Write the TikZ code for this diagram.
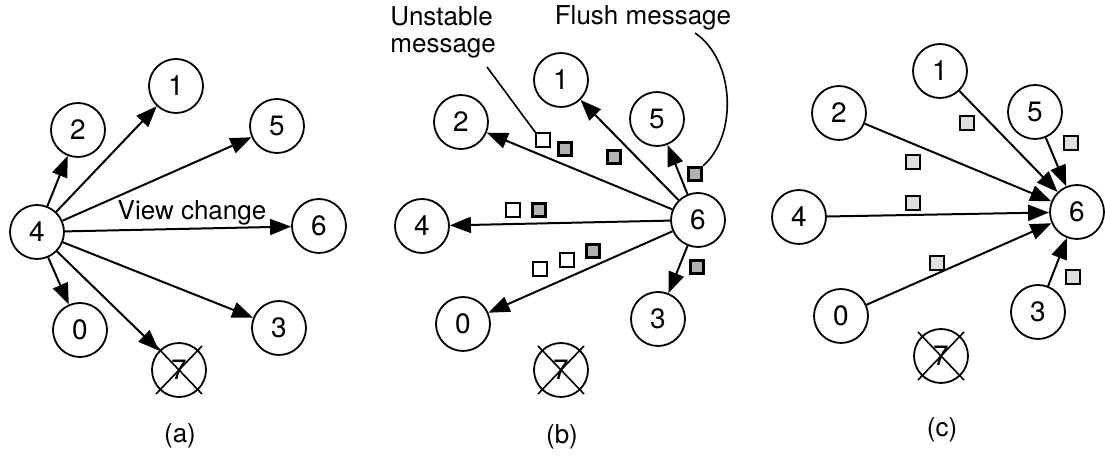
\documentclass[tikz,border=0pt]{standalone}
\usepackage{fontspec}
\setmainfont{TeX Gyre Heros}
\usetikzlibrary{arrows.meta,calc}
\tikzset{
  proc/.style={draw, circle, line width=0.9pt, minimum size=27pt, inner sep=0pt, font=\fontsize{14}{16}\selectfont},
  fl/.style={-{Triangle[length=10.5pt,width=8pt]}, line width=1pt},
  msjb/.style={draw, line width=0.9pt, fill=white, minimum size=6.8pt, inner sep=0pt},
  msjg/.style={msjb, line width=1.4pt, fill=gray!60},
  msjc/.style={msjb, line width=1.1pt, fill=gray!25},
  et/.style={font=\fontsize{13}{13.5}\selectfont, align=left, inner sep=0pt},
  cruz/.style={line width=0.8pt},
}

\begin{document}
\begin{tikzpicture}[x=0.5pt, y=-0.5pt]
  \useasboundingbox (0,0) rectangle (1105,459);
  % (a) 4 sends the view change
  \node[proc] (a4) at (37,232) {4};
  \node[proc] (a2) at (78,130) {2};
  \node[proc] (a1) at (176,86) {1};
  \node[proc] (a5) at (277,126) {5};
  \node[proc] (a6) at (319,226) {6};
  \node[proc] (a3) at (279,328) {3};
  \node[proc] (a0) at (80,330) {0};
  \node[proc] (a7) at (179,370) {7};
  \draw[cruz] ($(a7)+(-23,-24)$) -- ($(a7)+(23,24)$);
  \draw[cruz] ($(a7)+(23,-24)$) -- ($(a7)+(-23,24)$);
  \foreach \d in {2,1,5,6,3,0,7}
    \draw[fl] (a4) -- (a\d);
  \node[et, anchor=base] (vc) at (192,220) {View change};
  \node[et] (la) at (180,436) {(a)};

  % (b) 6 forwards unstable messages, then flush
  \node[proc] (b6) at (698,220) {6};
  \node[proc] (b2) at (461,122) {2};
  \node[proc] (b1) at (561,80) {1};
  \node[proc] (b5) at (657,119) {5};
  \node[proc] (b4) at (422,226) {4};
  \node[proc] (b0) at (463,324) {0};
  \node[proc] (b3) at (658,319) {3};
  \node[proc] (b7) at (561,370) {7};
  \draw[cruz] ($(b7)+(-23,-24)$) -- ($(b7)+(23,24)$);
  \draw[cruz] ($(b7)+(23,-24)$) -- ($(b7)+(-23,24)$);
  \foreach \d in {2,1,5,4,0,3}
    \draw[fl] (b6) -- (b\d);
  \node[msjb] (bu1) at (543,140) {};
  \node[msjg] (bg1) at (565,149) {};
  \node[msjg] (bg2) at (614,157) {};
  \node[msjg] (bf)  at (695,174) {};
  \node[msjb] (bu2) at (513,210) {};
  \node[msjg] (bg3) at (539,210) {};
  \node[msjb] (bu3) at (540,269) {};
  \node[msjb] (bu4) at (567,260) {};
  \node[msjg] (bg4) at (593,251) {};
  \node[msjg] (bg5) at (697,267) {};
  \node[et, anchor=north west] (tu) at (390,6) {Unstable\\message};
  \node[et, anchor=base] (tf) at (643,25) {Flush message};
  \coordinate (cu) at (487,67);
  \coordinate (cf) at (695,33);
  \draw[cruz] (cu) -- (bu1.north west);
  \draw[cruz] (cf) .. controls (735,60) and (738,135) .. (bf.north east);
  \node[et] (lb) at (562,437) {(b)};

  % (c) everybody flushes to 6
  \node[proc] (c6) at (1077,212) {6};
  \node[proc] (c1) at (940,71) {1};
  \node[proc] (c2) at (839,113) {2};
  \node[proc] (c5) at (1035,112) {5};
  \node[proc] (c4) at (799,217) {4};
  \node[proc] (c0) at (841,316) {0};
  \node[proc] (c3) at (1038,312) {3};
  \node[proc] (c7) at (941,356) {7};
  \draw[cruz] ($(c7)+(-23,-24)$) -- ($(c7)+(23,24)$);
  \draw[cruz] ($(c7)+(23,-24)$) -- ($(c7)+(-23,24)$);
  \foreach \d in {1,2,5,4,0,3}
    \draw[fl] (c\d) -- (c6);
  \node[msjc] (cm1) at (967,123) {};
  \node[msjc] (cm2) at (913,162) {};
  \node[msjc] (cm4) at (913,203) {};
  \node[msjc] (cm0) at (937,263) {};
  \node[msjc] (cm5) at (1071,143) {};
  \node[msjc] (cm3) at (1073,277) {};
  \node[et] (lc) at (942,430) {(c)};
\end{tikzpicture}
\end{document}
